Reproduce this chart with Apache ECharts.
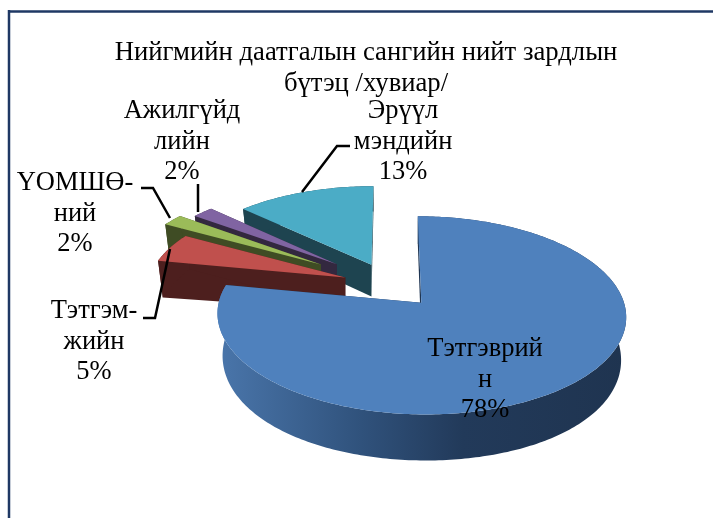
<!DOCTYPE html>
<html>
<head>
<meta charset="utf-8">
<title>Нийгмийн даатгалын сан</title>
<script src="https://cdn.jsdelivr.net/npm/echarts@6/dist/echarts.min.js"></script>
<style>
  html, body { margin: 0; padding: 0; background: #fff; }
  #chart { width: 713px; height: 518px; }
</style>
</head>
<body>
<div id="chart"></div>
<script>
var categories = ['Тэтгэврий\nн', 'Тэтгэм-\nжийн', 'ҮОМШӨ-\nний', 'Ажилгүйд\nлийн', 'Эрүүл\nмэндийн'];
var values = [78, 5, 2, 2, 13];
var explode = [48, 48, 84, 71, 48];
var topColors = ['#4f81bd', '#c0504d', '#9bbb59', '#8064a2', '#4bacc6'];
var wallColors = ['#1f3552', '#4d1f1e', '#3f4c24', '#33283f', '#1e4450'];
var labelPos = [[485, 380], [94, 342], [75, 214], [182, 142], [403, 142]];
var leaders = [
    null,
    [[143, 318], [155, 318], [170, 249]],
    [[141, 188], [153, 188], [170, 218]],
    [[198, 184], [198, 212]],
    [[350, 146], [337, 146], [302, 192]]
];

// perspective view of the pie plane
var cx = 390, cy = 285, radius = 198, tilt = 0.47, persp = 0.000625, depth = 33.5;

function project(X, Z, low, ox) {
    var s = 1 / (1 + persp * Z);
    if (!low) {
        return [cx + X * s, cy - Z * tilt * s];
    }
    // the base sits further from the eye, so it draws in a little towards the slice's own apex
    var dx = (X - ox) / radius;
    return [
        cx + (ox + (X - ox) * 0.975) * s,
        cy - Z * tilt * s + depth * s * s * (1 + 0.18 * dx * dx)
    ];
}

var total = values.reduce(function (a, b) { return a + b; }, 0);
var starts = [];
values.reduce(function (sum, v, i) {
    starts[i] = sum / total * Math.PI * 2;
    return sum + v;
}, 0);

function renderSlice(params, api) {
    var i = api.value(0);
    var a0 = starts[i];
    var a1 = a0 + api.value(1) / total * Math.PI * 2;
    var mid = (a0 + a1) / 2;
    var ox = Math.sin(mid) * explode[i];
    var oz = Math.cos(mid) * explode[i];
    var top = [], low = [];
    var n = Math.max(4, Math.round((a1 - a0) * 60));
    for (var k = 0; k <= n; k++) {
        var a = a0 + (a1 - a0) * k / n;
        var X = ox + Math.sin(a) * radius;
        var Z = oz + Math.cos(a) * radius;
        top.push(project(X, Z, false, ox));
        low.push(project(X, Z, true, ox));
    }
    var apexTop = project(ox, oz, false, ox);
    var apexLow = project(ox, oz, true, ox);

    var rimFill = wallColors[i];
    if (i === 0) {
        rimFill = new echarts.graphic.LinearGradient(0, 0, 1, 0, [
            { offset: 0, color: '#4a76ab' },
            { offset: 0.35, color: '#30527c' },
            { offset: 0.6, color: '#223a5a' },
            { offset: 1, color: '#1f3450' }
        ]);
    }
    return {
        type: 'group',
        children: [
            { type: 'polygon', shape: { points: [apexTop, top[0], low[0], apexLow] }, style: { fill: wallColors[i] } },
            { type: 'polygon', shape: { points: [apexTop, top[n], low[n], apexLow] }, style: { fill: wallColors[i] } },
            { type: 'polygon', shape: { points: top.concat(low.slice().reverse()) }, style: { fill: rimFill } },
            { type: 'polygon', shape: { points: [apexTop].concat(top) }, style: { fill: topColors[i] } }
        ]
    };
}

function renderLabel(params, api) {
    var i = api.value(0);
    var children = [{
        type: 'text',
        x: labelPos[i][0],
        y: labelPos[i][1],
        style: {
            text: categories[i] + '\n' + api.value(1) + '%',
            fill: '#000',
            font: '26.5px "Liberation Serif", serif',
            lineHeight: 30.5,
            align: 'center',
            verticalAlign: 'middle'
        }
    }];
    if (leaders[i]) {
        children.push({
            type: 'polyline',
            shape: { points: leaders[i] },
            style: { stroke: '#000', lineWidth: 2.5, fill: null }
        });
    }
    return { type: 'group', children: children };
}

// painter's order: far slices first
var paintOrder = [4, 3, 2, 1, 0];
var sliceData = paintOrder.map(function (i) { return [i, values[i]]; });
var labelData = values.map(function (v, i) { return [i, v]; });

var chart = echarts.init(document.getElementById('chart'), null, { renderer: 'canvas' });
chart.setOption({
    animation: false,
    backgroundColor: '#fff',
    title: {
        text: 'Нийгмийн даатгалын сангийн нийт зардлын\nбүтэц /хувиар/',
        left: 361,
        top: 32,
        textAlign: 'center',
        textStyle: {
            fontFamily: '"Liberation Serif", serif',
            fontSize: 26.7,
            fontWeight: 'normal',
            color: '#000',
            lineHeight: 31
        }
    },
    graphic: [
        { type: 'line', shape: { x1: 8, y1: 11.5, x2: 713, y2: 11.5 }, style: { stroke: '#1f3864', lineWidth: 2.5 } },
        { type: 'line', shape: { x1: 9, y1: 10, x2: 9, y2: 518 }, style: { stroke: '#1f3864', lineWidth: 2.5 } }
    ],
    series: [
        { type: 'custom', coordinateSystem: 'none', data: sliceData, renderItem: renderSlice, silent: true, z: 2 },
        { type: 'custom', coordinateSystem: 'none', data: labelData, renderItem: renderLabel, silent: true, z: 3 }
    ]
});
</script>
</body>
</html>
